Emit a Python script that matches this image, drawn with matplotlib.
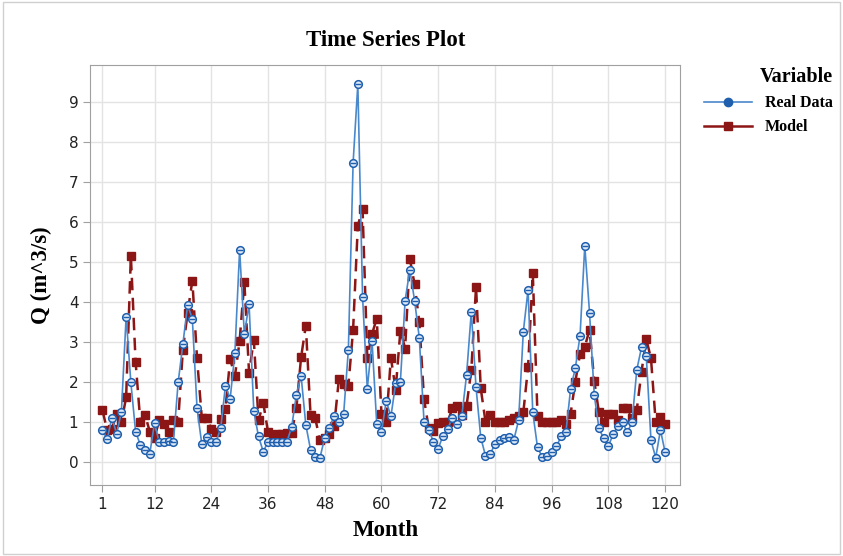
import matplotlib
matplotlib.use("Agg")
import matplotlib.pyplot as plt
import numpy as np
from matplotlib.lines import Line2D
from matplotlib.patches import Rectangle

months = list(range(1, 121))
real_data = [
    0.78, 0.57, 1.10, 0.69, 1.25, 3.63, 1.98, 0.75, 0.42, 0.28, 0.20, 0.97,
    0.48, 0.50, 0.52, 0.50, 1.98, 2.94, 3.92, 3.57, 1.33, 0.44, 0.62, 0.48,
    0.50, 0.83, 1.90, 1.57, 2.72, 5.30, 3.19, 3.94, 1.26, 0.63, 0.25, 0.50,
    0.50, 0.50, 0.50, 0.50, 0.86, 1.67, 2.15, 0.92, 0.30, 0.11, 0.10, 0.60,
    0.85, 1.15, 0.98, 1.19, 2.80, 7.47, 9.44, 4.13, 1.82, 3.03, 0.94, 0.73,
    1.52, 1.13, 1.96, 2.00, 4.03, 4.80, 4.03, 3.10, 1.00, 0.79, 0.50, 0.32,
    0.65, 0.82, 1.10, 0.93, 1.15, 2.17, 3.75, 1.86, 0.60, 0.15, 0.18, 0.45,
    0.55, 0.60, 0.62, 0.55, 1.03, 3.25, 4.30, 1.23, 0.36, 0.11, 0.15, 0.23,
    0.38, 0.63, 0.73, 1.82, 2.34, 3.15, 5.40, 3.73, 1.67, 0.83, 0.58, 0.40,
    0.68, 0.90, 0.98, 0.73, 0.99, 2.30, 2.86, 2.65, 0.53, 0.10, 0.79, 0.23,
]
model = [
    1.28, 0.78, 0.82, 1.19, 0.98, 1.61, 5.15, 2.50, 1.00, 1.17, 0.75, 0.60,
    1.03, 0.94, 0.75, 1.05, 1.00, 2.80, 3.72, 4.53, 2.58, 1.10, 1.10, 0.82,
    0.75, 1.07, 1.32, 2.57, 2.13, 3.02, 4.50, 2.22, 3.05, 1.03, 1.47, 0.75,
    0.60, 0.69, 0.69, 0.72, 0.72, 1.33, 2.61, 3.40, 1.17, 1.08, 0.53, 0.58,
    0.70, 0.90, 2.07, 1.94, 1.90, 3.30, 5.90, 6.32, 2.60, 3.19, 3.58, 1.19,
    0.98, 2.60, 1.80, 3.28, 2.83, 5.07, 4.44, 3.50, 1.57, 0.83, 0.76, 0.96,
    0.98, 1.00, 1.33, 1.40, 1.17, 1.40, 2.29, 4.37, 1.83, 1.00, 1.17, 1.00,
    0.98, 0.98, 1.03, 1.10, 1.15, 1.23, 2.36, 4.72, 1.15, 1.00, 0.98, 0.98,
    0.98, 1.03, 0.95, 1.20, 2.00, 2.70, 2.87, 3.30, 2.02, 1.23, 1.00, 1.20,
    1.20, 1.03, 1.33, 1.33, 1.10, 1.30, 2.25, 3.07, 2.58, 0.98, 1.12, 0.95,
]
x_ticks = [1, 12, 24, 36, 48, 60, 72, 84, 96, 108, 120]
y_ticks = list(range(0, 10))

serif = ["Liberation Serif", "DejaVu Serif"]
blue_line = "#4a88cc"
blue_mark = "#1f5fae"
red = "#8c1515"

fig = plt.figure(figsize=(8.43, 5.56), dpi=100)
ax = fig.add_axes([0.107, 0.128, 0.700, 0.755])

ax.plot(months, real_data, color=blue_line, lw=1.2, zorder=3)
ax.plot(months, model, color=red, lw=1.8, ls=(0, (5, 3)), zorder=2,
        marker="s", ms=6, mfc=red, mec=red)
ax.plot(months, real_data, ls="none", marker="o", ms=5.5, mfc="#dce8f6",
        mec=blue_mark, mew=1.1, zorder=4)
ax.plot(months, real_data, ls="none", marker="_", ms=5, mec=blue_mark,
        mew=1.0, zorder=5)

ax.set_xlim(-1.6, 123.2)
ax.set_ylim(-0.58, 9.92)
ax.set_xticks(x_ticks)
ax.set_yticks(y_ticks)
ax.grid(True, color="#e3e3e3", lw=1.0, zorder=0)
ax.set_axisbelow(True)
for s in ax.spines.values():
    s.set_color("#a0a0a0")
ax.tick_params(labelsize=11, colors="#222222", length=5, color="#a0a0a0")

ax.set_title("Time Series Plot", family=serif, fontweight="bold", fontsize=16.5, pad=14)
ax.set_xlabel("Month", family=serif, fontweight="bold", fontsize=16.5, labelpad=6)
ax.set_ylabel("Q (m^3/s)", family=serif, fontweight="bold", fontsize=16.5, labelpad=12)

handles = [
    Line2D([], [], color=blue_line, lw=1.2, marker="o", ms=6, mfc=blue_mark, mec=blue_mark),
    Line2D([], [], color=red, lw=1.8, marker="s", ms=6, mfc=red, mec=red),
]
leg = fig.legend(handles, ["Real Data", "Model"], loc="upper left",
                 bbox_to_anchor=(0.818, 0.905), frameon=False,
                 title="Variable", handlelength=3.0,
                 prop={"family": serif, "weight": "bold", "size": 11.5})
leg.get_title().set_fontfamily(serif)
leg.get_title().set_fontweight("bold")
leg.get_title().set_fontsize(14.5)
leg._legend_box.align = "right"

fig.patches.append(Rectangle((0.004, 0.004), 0.992, 0.992, transform=fig.transFigure,
                             fill=False, ec="#d0d0d0", lw=1.0))

fig.savefig("out.png", dpi=100)
